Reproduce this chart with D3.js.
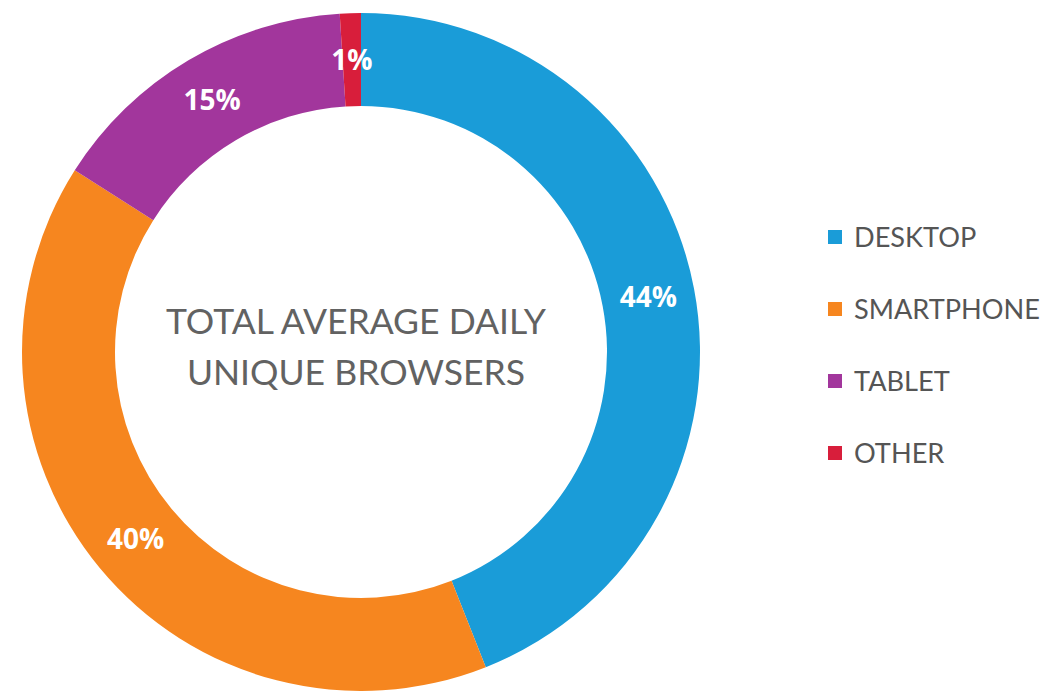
<!DOCTYPE html>
<html>
<head>
<meta charset="utf-8">
<script src="https://cdn.jsdelivr.net/npm/d3@7"></script>
<style>
  html, body { margin: 0; padding: 0; background: #ffffff; }
  svg { display: block; }
</style>
</head>
<body>
<svg id="chart" width="1043" height="691"></svg>
<script>
// Share of average daily unique browsers by device type
const categories = ["DESKTOP", "SMARTPHONE", "TABLET", "OTHER"];
const shares = [44, 40, 15, 1];
const percentLabels = ["44%", "40%", "15%", "1%"];
const palette = ["#1a9cd8", "#f6861f", "#a2369c", "#d81e3b"];
const centerLines = ["TOTAL AVERAGE DAILY", "UNIQUE BROWSERS"];

const W = 1043, H = 691;
const cx = 361, cy = 352;
const outerR = 339, innerR = 246;

const svg = d3.select("#chart");

const color = d3.scaleOrdinal().domain(categories).range(palette);

const data = categories.map((c, i) => ({ name: c, value: shares[i], label: percentLabels[i] }));

const pie = d3.pie()
  .value(d => d.value)
  .sort(null)
  .startAngle(0)
  .endAngle(2 * Math.PI);

const arc = d3.arc().innerRadius(innerR).outerRadius(outerR);
const labelArc = d3.arc().innerRadius((innerR + outerR) / 2).outerRadius((innerR + outerR) / 2);

const g = svg.append("g").attr("transform", `translate(${cx},${cy})`);

const slices = g.selectAll("g.slice")
  .data(pie(data))
  .join("g")
  .attr("class", "slice");

slices.append("path")
  .attr("d", arc)
  .attr("fill", d => color(d.data.name));

slices.append("text")
  .attr("transform", d => `translate(${labelArc.centroid(d)})`)
  .attr("text-anchor", "middle")
  .attr("dy", "0.36em")
  .attr("fill", "#ffffff")
  .attr("font-family", "'Open Sans', 'DejaVu Sans', sans-serif")
  .attr("font-weight", 700)
  .attr("font-size", 28)
  .text(d => d.data.label);

// Fit a text element to a target width by adjusting its font size
function fitWidth(sel, target) {
  const node = sel.node();
  const fs = parseFloat(sel.attr("font-size"));
  const w = node.getComputedTextLength();
  if (w > 0) sel.attr("font-size", (fs * target / w).toFixed(2));
}

// Center caption
const caption = g.append("g").attr("transform", "translate(-5,0)");
const line1 = caption.append("text")
  .attr("x", 0).attr("y", -18)
  .attr("text-anchor", "middle")
  .attr("fill", "#626262")
  .attr("font-family", "Lato, 'Open Sans', sans-serif")
  .attr("font-weight", 400)
  .attr("font-size", 36)
  .text(centerLines[0]);
fitWidth(line1, 380);
const line2 = caption.append("text")
  .attr("x", 0).attr("y", 33)
  .attr("text-anchor", "middle")
  .attr("fill", "#626262")
  .attr("font-family", "Lato, 'Open Sans', sans-serif")
  .attr("font-weight", 400)
  .attr("font-size", parseFloat(line1.attr("font-size")))
  .text(centerLines[1]);

// Legend
const legendY = d3.scalePoint().domain(categories).range([237, 453]);
const legend = svg.append("g");
const items = legend.selectAll("g.item")
  .data(categories)
  .join("g")
  .attr("class", "item")
  .attr("transform", d => `translate(828,${legendY(d)})`);

items.append("rect")
  .attr("x", 0).attr("y", -7)
  .attr("width", 14).attr("height", 14)
  .attr("fill", d => color(d));

const legendTexts = items.append("text")
  .attr("x", 26).attr("y", 0)
  .attr("dy", "0.35em")
  .attr("fill", "#555555")
  .attr("font-family", "Lato, 'Open Sans', sans-serif")
  .attr("font-size", 22)
  .text(d => d);

// Size legend text so the widest entry spans its measured width
const widest = legendTexts.filter(d => d === "SMARTPHONE");
fitWidth(widest, 186);
legendTexts.attr("font-size", widest.attr("font-size"));
</script>
</body>
</html>
